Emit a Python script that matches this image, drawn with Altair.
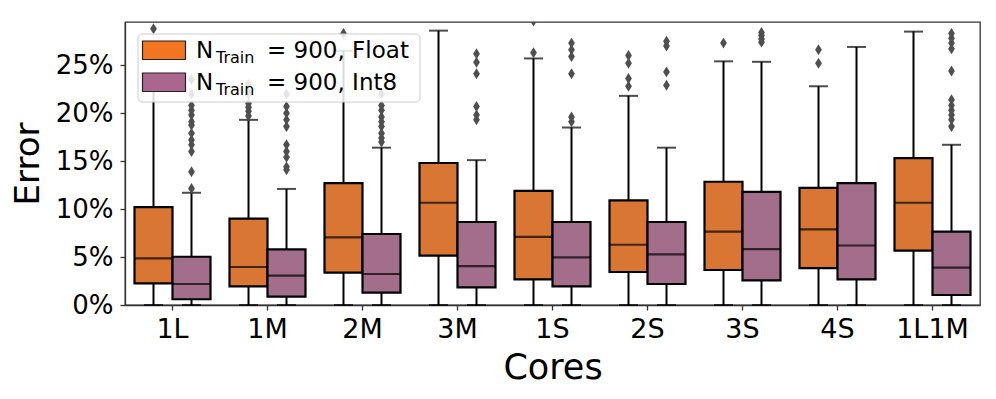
import altair as alt
import pandas as pd

# ---------------- data (percent) ----------------
cores = ["1L", "1M", "2M", "3M", "1S", "2S", "3S", "4S", "1L1M"]
groups = ["Float", "Int8"]

float_low = [0, 0, 0, 0, 0, 0, 0, 0, 0]
float_q1 = [2.26, 1.94, 3.37, 5.14, 2.67, 3.44, 3.65, 3.85, 5.66]
float_med = [4.86, 3.96, 7.05, 10.66, 7.1, 6.28, 7.64, 7.88, 10.66]
float_q3 = [10.2, 9.0, 12.7, 14.8, 11.9, 10.9, 12.85, 12.2, 15.3]
float_high = [24.0, 19.3, 26.5, 28.6, 25.7, 21.8, 25.4, 22.8, 28.5]

int8_low = [0, 0, 0, 0, 0, 0, 0, 0, 0]
int8_q1 = [0.6, 0.87, 1.28, 1.84, 1.94, 2.19, 2.57, 2.67, 1.04]
int8_med = [2.19, 3.06, 3.23, 4.06, 4.97, 5.28, 5.83, 6.2, 3.89]
int8_q3 = [5.03, 5.8, 7.4, 8.65, 8.65, 8.65, 11.8, 12.7, 7.64]
int8_high = [11.7, 12.1, 16.4, 15.1, 18.5, 16.4, 25.35, 26.9, 16.7]

float_outliers = {
    "1L": [28.8],
    "1M": [19.7, 20.2, 20.6, 21.0, 22.0, 23.0],
    "2M": [28.3],
    "3M": [],
    "1S": [26.3, 29.6],
    "2S": [22.8, 23.6, 25.2, 26.0],
    "3S": [27.3],
    "4S": [25.2, 26.6],
    "1L1M": [],
}
int8_outliers = {
    "1L": [12.15, 13.9, 16.0, 16.7, 17.2, 17.9, 18.75, 19.1, 19.8, 20.3, 20.8, 22.0, 23.5],
    "1M": [14.1, 14.4, 15.4, 16.0, 16.7, 18.6, 19.3, 20.0, 20.7, 22.0],
    "2M": [17.0, 17.4, 17.9, 18.6, 19.1, 19.6, 20.3, 20.8, 22.0],
    "3M": [19.3, 19.8, 20.7, 24.1, 25.3, 26.2],
    "1S": [19.1, 19.6, 24.1, 25.9, 26.6, 27.3],
    "2S": [22.9, 24.3, 27.0, 27.5],
    "3S": [27.4, 27.7, 28.1, 28.4],
    "4S": [],
    "1L1M": [18.6, 19.3, 19.8, 20.3, 20.8, 21.4, 24.4, 26.7, 27.3, 27.8, 28.3],
}

legend_labels = ["= 900, Float", "= 900, Int8"]
box_colors = ["#DA7634", "#A36E8B"]
legend_colors = ["#F37421", "#AB6690"]

# ---------------- tables ----------------
rows = []
for g, lo, q1, md, q3, hi in [
    ("Float", float_low, float_q1, float_med, float_q3, float_high),
    ("Int8", int8_low, int8_q1, int8_med, int8_q3, int8_high),
]:
    for i, c in enumerate(cores):
        rows.append(dict(core=c, grp=g, lo=lo[i] / 100, q1=q1[i] / 100,
                         med=md[i] / 100, q3=q3[i] / 100, hi=hi[i] / 100))
stats = pd.DataFrame(rows)

orows = []
for g, d in [("Float", float_outliers), ("Int8", int8_outliers)]:
    for c in cores:
        for v in d[c]:
            orows.append(dict(core=c, grp=g, val=v / 100))
outl = pd.DataFrame(orows)

W, H = 855, 283
FONT = "DejaVu Sans"

xenc = alt.X("core:N", sort=cores, title="Cores",
             scale=alt.Scale(paddingInner=0, paddingOuter=0),
             axis=alt.Axis(labelAngle=0, labelFontSize=27, labelPadding=6,
                           titleFontSize=35, titleFontWeight="normal",
                           titleY=73, titleBaseline="alphabetic"))
xoff = alt.XOffset("grp:N", sort=groups,
                   scale=alt.Scale(paddingInner=0, paddingOuter=0.25))
yscale = alt.Scale(domain=[0, 0.295], nice=False, zero=False)
yaxis = alt.Axis(values=[0, 0.05, 0.10, 0.15, 0.20, 0.25], format=".0%",
                 labelFontSize=26, labelPadding=7, grid=False,
                 titleFontSize=34, titleFontWeight="normal",
                 titleX=-97, titleY=H / 2, titleAngle=270,
                 titleAlign="center", titleBaseline="middle")

base = alt.Chart(stats)

whisk = base.mark_rule(color="black", strokeWidth=2).encode(
    x=xenc, xOffset=xoff,
    y=alt.Y("lo:Q", scale=yscale, axis=yaxis, title="Error"),
    y2="hi:Q",
)
cap_hi = base.mark_tick(orient="horizontal", size=19, thickness=2, color="black").encode(
    x=xenc, xOffset=xoff, y=alt.Y("hi:Q", scale=yscale))
cap_lo = base.mark_tick(orient="horizontal", size=19, thickness=2, color="black").encode(
    x=xenc, xOffset=xoff, y=alt.Y("lo:Q", scale=yscale))
box = base.mark_bar(stroke="black", strokeWidth=2.2).encode(
    x=xenc, xOffset=xoff,
    y=alt.Y("q1:Q", scale=yscale), y2="q3:Q",
    fill=alt.Fill("grp:N", sort=groups,
                  scale=alt.Scale(domain=groups, range=box_colors), legend=None),
)
med = base.mark_tick(orient="horizontal", size=38, thickness=2.2, color="black").encode(
    x=xenc, xOffset=xoff, y=alt.Y("med:Q", scale=yscale))

diamond = "M0,-1L0.62,0L0,1L-0.62,0Z"
pts = alt.Chart(outl).mark_point(shape=diamond, filled=True, color="#4f4f4f",
                                 opacity=1, size=120, clip=True).encode(
    x=xenc, xOffset=xoff, y=alt.Y("val:Q", scale=yscale))

# ---------------- custom legend (matplotlib style) ----------------
one = pd.DataFrame({"k": [0]})
leg_layers = [
    alt.Chart(one).mark_rect(fill="white", fillOpacity=0.85, stroke="#cccccc",
                             strokeWidth=1, cornerRadius=4).encode(
        x=alt.value(13), x2=alt.value(295), y=alt.value(12), y2=alt.value(80))
]
row_y = [(19, 37.5, 36, 40.5), (51, 69.5, 68, 72.5)]
for i, lab in enumerate(legend_labels):
    y0, y1, by, sby = row_y[i]
    leg_layers.append(alt.Chart(one).mark_rect(fill=legend_colors[i], stroke="#222222",
                                               strokeWidth=1.2).encode(
        x=alt.value(17.5), x2=alt.value(60.5), y=alt.value(y0), y2=alt.value(y1)))
    leg_layers.append(alt.Chart(one).mark_text(align="left", baseline="alphabetic",
                                               fontSize=23, font=FONT, color="black").encode(
        x=alt.value(71), y=alt.value(by), text=alt.value("N")))
    leg_layers.append(alt.Chart(one).mark_text(align="left", baseline="alphabetic",
                                               fontSize=16, font=FONT, color="black").encode(
        x=alt.value(91), y=alt.value(sby), text=alt.value("Train")))
    leg_layers.append(alt.Chart(one).mark_text(align="left", baseline="alphabetic",
                                               fontSize=23, font=FONT, color="black").encode(
        x=alt.value(142), y=alt.value(by), text=alt.value(lab)))

chart = alt.layer(whisk, cap_hi, cap_lo, box, med, pts, *leg_layers).properties(
    width=W, height=H,
    autosize=alt.AutoSizeParams(type="none"),
    padding={"left": 117, "top": 14, "right": 8, "bottom": 86},
).configure(font=FONT).configure_view(
    stroke="#333333", strokeWidth=1.3
).configure_axis(
    domainColor="#333333", domainWidth=1.3, tickColor="#333333", tickWidth=1.3,
    tickSize=5, labelColor="black", titleColor="black", labelFont=FONT, titleFont=FONT,
)

chart.save("out.html", embed_options={"renderer": "svg", "actions": False})
